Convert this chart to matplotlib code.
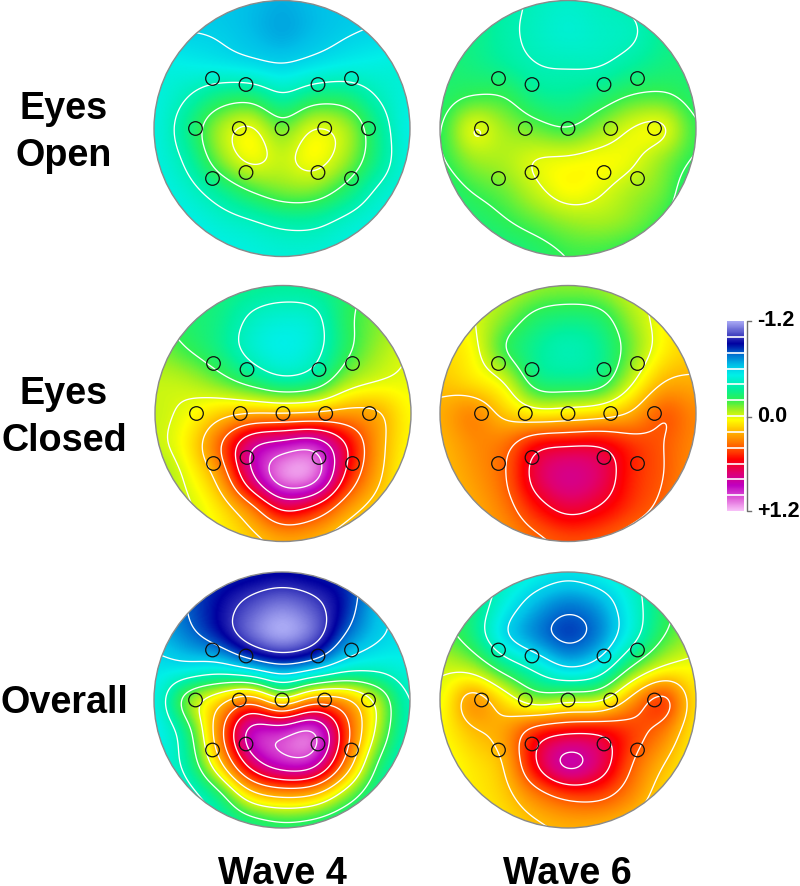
import numpy as np
import matplotlib
matplotlib.use("Agg")
import matplotlib.pyplot as plt
from matplotlib.colors import LinearSegmentedColormap
from matplotlib.patches import Circle

plt.rcParams['font.family'] = ['Liberation Sans', 'DejaVu Sans']
plt.rcParams['contour.negative_linestyle'] = 'solid'

# Amplitudes on a 9x9 lattice (top row first)
open_w4 = [
 [-.61,-.62,-.63,-.65,-.68,-.65,-.63,-.61,-.60],
 [-.60,-.60,-.61,-.65,-.69,-.65,-.61,-.59,-.58],
 [-.50,-.52,-.54,-.57,-.60,-.56,-.52,-.50,-.48],
 [-.50,-.41,-.29,-.26,-.38,-.28,-.28,-.41,-.50],
 [-.50,-.32,-.08, .03,-.14, .01,-.06,-.31,-.52],
 [-.50,-.38,-.13, .03,-.03, .05,-.08,-.31,-.50],
 [-.52,-.46,-.34,-.21,-.13,-.13,-.26,-.43,-.50],
 [-.52,-.52,-.47,-.43,-.38,-.38,-.45,-.50,-.52],
 [-.55,-.55,-.52,-.50,-.48,-.48,-.50,-.52,-.55]]
open_w6 = [
 [-.30,-.30,-.36,-.42,-.45,-.42,-.38,-.30,-.30],
 [-.28,-.30,-.37,-.43,-.47,-.44,-.42,-.32,-.28],
 [-.26,-.29,-.34,-.40,-.41,-.41,-.35,-.29,-.27],
 [-.25,-.20,-.20,-.31,-.33,-.27,-.19,-.18,-.25],
 [-.22, .02,-.08,-.15,-.20,-.10, .01, .03,-.20],
 [-.22,-.09,-.06, .01, .03, .05, .02,-.10,-.22],
 [-.28,-.20,-.14,-.03, .05, .01,-.07,-.14,-.30],
 [-.30,-.27,-.22,-.16,-.10,-.08,-.12,-.21,-.30],
 [-.32,-.32,-.30,-.26,-.20,-.20,-.24,-.30,-.32]]
closed_w4 = [
 [-.22,-.24,-.27,-.31,-.33,-.31,-.25,-.14,-.10],
 [-.20,-.25,-.30,-.42,-.47,-.44,-.23,-.12,-.08],
 [-.12,-.20,-.30,-.45,-.52,-.45,-.23,-.08, .00],
 [-.03,-.05,-.14,-.26,-.36,-.30,-.08, .00, .02],
 [-.03, .03, .14, .20, .20, .22, .26, .22, .05],
 [-.03, .08, .38, .78, .90, .95, .60, .25, .05],
 [-.10, .02, .25, .76,1.12,1.08, .54, .22, .02],
 [-.05,-.02, .10, .32, .62, .52, .27, .12, .00],
 [ .00, .00, .05, .15, .22, .20, .10, .03, .00]]
closed_w6 = [
 [ .05, .02,-.02,-.08,-.10,-.08, .00, .04, .08],
 [ .10, .01,-.11,-.24,-.28,-.25,-.08, .06, .15],
 [ .12, .05,-.20,-.33,-.40,-.33,-.13, .07, .15],
 [ .17, .10, .00,-.27,-.30,-.27,-.02, .20, .22],
 [ .22, .31, .16, .06, .08, .12, .22, .40, .30],
 [ .20, .29, .35, .56, .60, .60, .48, .40, .30],
 [ .18, .26, .38, .66, .78, .70, .50, .40, .28],
 [ .18, .22, .33, .52, .64, .58, .46, .36, .24],
 [ .20, .20, .26, .36, .42, .40, .33, .27, .20]]
overall_w4 = [
 [-.75,-.80,-.85,-.88,-.90,-.88,-.85,-.72,-.62],
 [-.70,-.80,-.92,-1.04,-1.12,-1.04,-.88,-.65,-.55],
 [-.65,-.75,-.88,-1.08,-1.20,-1.08,-.78,-.62,-.55],
 [-.55,-.55,-.52,-.63,-.74,-.65,-.48,-.45,-.50],
 [-.52,-.12, .12, .33, .03, .30, .24,-.05,-.42],
 [-.55,-.30, .30, .88, .95,1.04, .47,-.05,-.42],
 [-.50,-.36, .13, .68, .92, .88, .33,-.22,-.45],
 [-.50,-.47,-.28, .10, .22, .17,-.10,-.35,-.48],
 [-.50,-.48,-.42,-.33,-.27,-.30,-.38,-.45,-.50]]
overall_w6 = [
 [-.25,-.28,-.40,-.50,-.55,-.50,-.42,-.25,-.15],
 [-.22,-.28,-.50,-.67,-.76,-.69,-.48,-.25,-.12],
 [-.15,-.28,-.58,-.74,-.84,-.74,-.47,-.20,-.08],
 [-.02,-.06,-.27,-.44,-.60,-.50,-.18, .02, .05],
 [ .02, .28, .10,-.10,-.05,-.03, .26, .47, .10],
 [ .05, .18, .25, .50, .58, .58, .46, .33, .08],
 [ .02, .10, .20, .60, .86, .70, .40, .20, .05],
 [ .05, .08, .15, .32, .44, .44, .30, .12, .05],
 [ .05, .05, .10, .17, .21, .20, .15, .08, .05]]

row_titles = [["Eyes", "Open"], ["Eyes", "Closed"], ["Overall"]]
col_titles = ["Wave 4", "Wave 6"]
bar_labels = ["-1.2", "0.0", "+1.2"]
levels = [-1.0, -.8, -.6, -.4, -.2, 0.0, .2, .4, .6, .8, 1.0]
electrode_dx = [-69.5,-36,36,69.5, -86.5,-42.7,0,42.7,86.5, -69.5,-36,36,69.5]
electrode_dy = [-50,-44,-44,-50, 0,0,0,0,0, 50,44,44,50]

cmap_pos = [-1.2,-1.05,-.92,-.78,-.65,-.52,-.35,-.2,-.08,.05,.18,.32,.45,.55,.72,.88,1.05,1.2]
cmap_col = ['#a8a8f4','#5050c8','#0000a0','#0070d0','#00c0e8','#00f0e8','#00f0a0','#30f050',
            '#a0f020','#ffff00','#ffc000','#ff8000','#ff4000','#ff0000','#e00070','#c000c0',
            '#e060d8','#f8c0f8']
cmap = LinearSegmentedColormap.from_list(
    'erp', [((p + 1.2) / 2.4, c) for p, c in zip(cmap_pos, cmap_col)], N=512)


def smooth(grid, n=257, sigma=7.0):
    """Catmull-Rom resampling of the lattice plus a light blur, for a smooth field."""
    g = np.array(grid, float)
    g = np.pad(g, 1, mode='edge')
    t = np.linspace(0, 8, n)
    i = np.clip(t.astype(int), 0, 7)
    f = t - i
    w = np.stack([-.5*f+f**2-.5*f**3, 1-2.5*f**2+1.5*f**3,
                  .5*f+2*f**2-1.5*f**3, -.5*f**2+.5*f**3], 1)
    g = np.stack([g[i + k] for k in range(4)], 0)
    g = np.einsum('kij,ik->ij', g, w)
    g = np.stack([g[:, i + k] for k in range(4)], 0)
    z = np.einsum('kri,ik->ri', g, w)
    r = int(3 * sigma)
    ker = np.exp(-.5 * (np.arange(-r, r + 1) / sigma) ** 2)
    ker /= ker.sum()
    z = np.pad(z, r, mode='edge')
    z = np.apply_along_axis(lambda v: np.convolve(v, ker, mode='same'), 0, z)
    z = np.apply_along_axis(lambda v: np.convolve(v, ker, mode='same'), 1, z)
    return z[r:-r, r:-r]


fig = plt.figure(figsize=(8, 8.87), dpi=100)
ax = fig.add_axes([0, 0, 1, 1])
R = 128


def panel(grid, cx, cy):
    z = smooth(grid)
    ext = (cx - R, cx + R, cy + R, cy - R)
    clip = Circle((cx, cy), R, transform=ax.transData)
    im = ax.imshow(z, cmap=cmap, vmin=-1.2, vmax=1.2, extent=ext,
                   interpolation='bilinear', zorder=1)
    im.set_clip_path(clip)
    xs = np.linspace(cx - R, cx + R, z.shape[1])
    ys = np.linspace(cy - R, cy + R, z.shape[0])
    cs = ax.contour(xs, ys, z, levels=levels, colors='white', linewidths=0.95, zorder=2)
    cs.set_clip_path(clip)
    ax.add_patch(Circle((cx, cy), R, fill=False, ec='#8a8a8a', lw=1.0, zorder=3))
    for dx, dy in zip(electrode_dx, electrode_dy):
        ax.add_patch(Circle((cx + dx, cy + dy), 6.8, fill=False, ec='#101010', lw=0.9, zorder=4))


panel(open_w4, 282, 129.5)
panel(open_w6, 568, 129.5)
panel(closed_w4, 283, 414.5)
panel(closed_w6, 568, 414.5)
panel(overall_w4, 282, 701)
panel(overall_w6, 568, 701)

big = dict(fontsize=27.2, fontweight='bold', color='black', ha='center', va='baseline')
ax.text(64, 119, row_titles[0][0], **big)
ax.text(64, 166, row_titles[0][1], **big)
ax.text(64, 404, row_titles[1][0], **big)
ax.text(64, 451, row_titles[1][1], **big)
ax.text(64, 713, row_titles[2][0], **big)
ax.text(282, 884, col_titles[0], **big)
ax.text(567, 884, col_titles[1], **big)

# colour bar
bar_top, bar_bot, bar_l, bar_r = 322, 512, 726.5, 743.5
grad = np.linspace(-1.2, 1.2, 240)[:, None]
ax.imshow(grad, cmap=cmap, vmin=-1.2, vmax=1.2, extent=(bar_l, bar_r, bar_bot, bar_top),
          interpolation='bilinear', zorder=1)
for k in range(1, 12):
    y = bar_top + (bar_bot - bar_top) * k / 12
    ax.plot([bar_l, bar_r], [y, y], color='white', lw=1.2, zorder=2)
ax.plot([751, 747, 747, 751], [bar_top, bar_top, bar_bot, bar_bot], color='#707070', lw=1, zorder=2)
ax.plot([747, 751], [417.5, 417.5], color='#707070', lw=1, zorder=2)
small = dict(fontsize=15.5, fontweight='bold', color='black', ha='left', va='center')
ax.text(757, 321, bar_labels[0], **small)
ax.text(757, 417, bar_labels[1], **small)
ax.text(757, 512, bar_labels[2], **small)

ax.set_xlim(0, 800)
ax.set_ylim(887, 0)
ax.axis('off')
fig.savefig('out.png', dpi=100, facecolor='white')
